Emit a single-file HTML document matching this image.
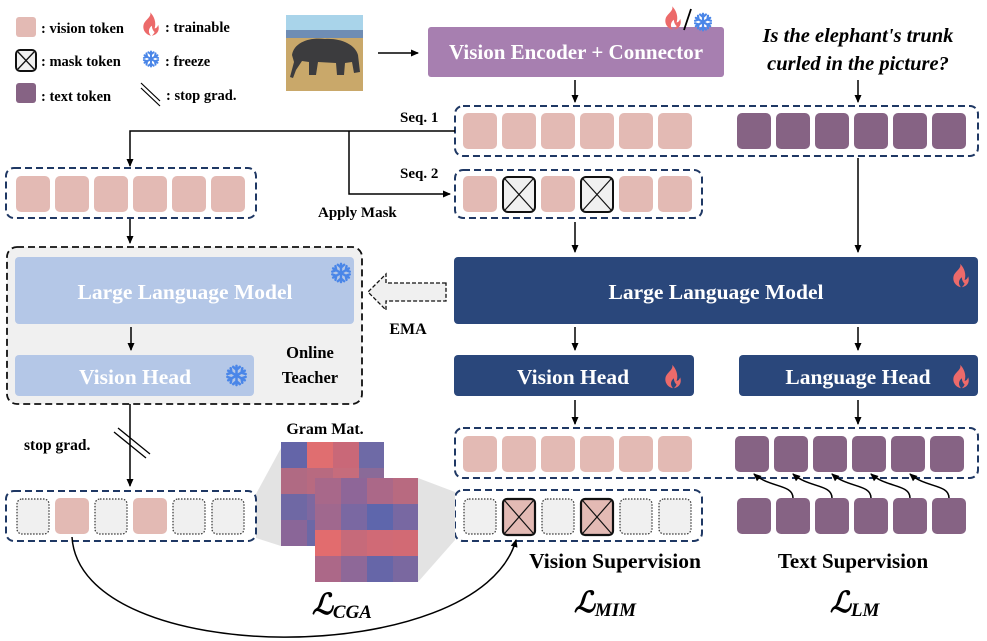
<!DOCTYPE html>
<html><head><meta charset="utf-8"><style>
html,body{margin:0;padding:0;background:#fff;}
svg{display:block;font-family:"Liberation Serif",serif;}
.b{font-weight:bold;}
</style></head><body>
<svg width="987" height="641" viewBox="0 0 987 641" xmlns="http://www.w3.org/2000/svg">
<defs>
<marker id="ah" markerWidth="8" markerHeight="8" refX="7" refY="4" orient="auto" markerUnits="userSpaceOnUse">
<path d="M0,0.5 L8,4 L0,7.5 Z" fill="#000"/></marker>
<symbol id="flame" viewBox="0 0 20 26">
<path d="M9,0 C11,5 4,8 2,13 C0,19 4,25 10,26 C6,22 8,17 11,15 C11,19 13,21 14,22 C13,24 12,25 11,26 C17,25 20,20 18,14 C17,17 15,18 14,18 C16,12 14,5 9,0 Z" fill="#ec6a6a"/>
</symbol>
<symbol id="snow" viewBox="-12 -12 24 24">
<g stroke="#4a86e8" stroke-width="2.6" stroke-linecap="round" fill="none">
<g id="arm"><line x1="0" y1="0" x2="0" y2="-10"/><path d="M-3.5,-9 L0,-6 L3.5,-9"/></g>
<use href="#arm" transform="rotate(60)"/><use href="#arm" transform="rotate(120)"/><use href="#arm" transform="rotate(180)"/><use href="#arm" transform="rotate(240)"/><use href="#arm" transform="rotate(300)"/>
</g></symbol>
<g id="vt"><rect width="34" height="36" rx="5" fill="#e3bab4"/></g>
<g id="tt"><rect width="34" height="36" rx="5" fill="#866384"/></g>
<g id="gt"><rect x="1" y="1" width="32" height="35" rx="5" fill="#f0f0f0" stroke="#333" stroke-width="1.2" stroke-dasharray="1.5,1.5"/></g>
<g id="mt"><rect x="1" y="1" width="32" height="35" rx="5" fill="#f0f0f0" stroke="#111" stroke-width="2"/><line x1="3" y1="3" x2="31" y2="34" stroke="#111" stroke-width="1.2"/><line x1="31" y1="3" x2="3" y2="34" stroke="#111" stroke-width="1.2"/></g>
<g id="mp"><rect x="1" y="1" width="32" height="36" rx="4" fill="#e3bab4" stroke="#111" stroke-width="2.2"/><line x1="3" y1="3" x2="31" y2="35" stroke="#111" stroke-width="1.2"/><line x1="31" y1="3" x2="3" y2="35" stroke="#111" stroke-width="1.2"/></g>
</defs>

<!-- Legend -->
<rect x="16" y="17" width="20" height="20" rx="3" fill="#e3bab4"/>
<text x="41" y="33" class="b" font-size="14.5">: vision token</text>
<rect x="16" y="50" width="20" height="21" rx="4" fill="#f0f0f0" stroke="#111" stroke-width="2"/>
<line x1="18" y1="52" x2="34" y2="69" stroke="#111" stroke-width="1.3"/><line x1="34" y1="52" x2="18" y2="69" stroke="#111" stroke-width="1.3"/>
<text x="41" y="66" class="b" font-size="14.5">: mask token</text>
<rect x="16" y="83" width="20" height="20" rx="3" fill="#866384"/>
<text x="41" y="101" class="b" font-size="14.5">: text token</text>
<use href="#flame" x="142" y="12" width="18" height="24"/>
<text x="165" y="32" class="b" font-size="14.5">: trainable</text>
<use href="#snow" x="142" y="50" width="18" height="18"/>
<text x="165" y="66" class="b" font-size="14.5">: freeze</text>
<line x1="141" y1="83" x2="160" y2="101" stroke="#000" stroke-width="1.2"/><line x1="141" y1="88" x2="160" y2="106" stroke="#000" stroke-width="1.2"/>
<text x="166" y="100" class="b" font-size="14.5">: stop grad.</text>

<!-- Elephant image -->
<rect x="286" y="15" width="77" height="76" fill="#c9a86a"/>
<rect x="286" y="15" width="77" height="22" fill="#a9d4ea"/>
<rect x="286" y="30" width="77" height="8" fill="#6f8db4"/>
<path d="M292,55 C294,42 310,37 325,39 C340,38 355,44 358,55 L360,72 L354,73 L352,62 L345,63 L344,75 L337,75 L336,63 L318,62 L316,75 L309,75 L309,62 L302,61 L296,70 L293,78 L290,77 L294,62 Z" fill="#3c3c3e"/>

<line x1="378" y1="53" x2="418" y2="53" stroke="#000" stroke-width="1.5" marker-end="url(#ah)"/>

<!-- Vision encoder -->
<rect x="428" y="27" width="296" height="50" rx="3" fill="#a77fb0"/>
<text x="576" y="59" text-anchor="middle" class="b" font-size="21" fill="#fff">Vision Encoder + Connector</text>
<use href="#flame" x="664" y="6" width="18" height="24"/>
<line x1="691" y1="9" x2="684" y2="30" stroke="#000" stroke-width="1.8"/>
<use href="#snow" x="693" y="12" width="20" height="20"/>

<text x="858" y="42" text-anchor="middle" font-style="italic" class="b" font-size="20.5">Is the elephant's trunk</text>
<text x="858" y="70" text-anchor="middle" font-style="italic" class="b" font-size="20.5">curled in the picture?</text>

<line x1="575" y1="80" x2="575" y2="102" stroke="#000" stroke-width="1.5" marker-end="url(#ah)"/>
<line x1="858" y1="80" x2="858" y2="102" stroke="#000" stroke-width="1.5" marker-end="url(#ah)"/>

<!-- Seq 1 -->
<text x="400" y="122" class="b" font-size="15">Seq. 1</text>
<rect x="455" y="106" width="523" height="50" rx="8" fill="none" stroke="#1f3864" stroke-width="2" stroke-dasharray="7,4"/>
<use href="#vt" x="463" y="113"/><use href="#vt" x="502" y="113"/><use href="#vt" x="541" y="113"/><use href="#vt" x="580" y="113"/><use href="#vt" x="619" y="113"/><use href="#vt" x="658" y="113"/>
<use href="#tt" x="737" y="113"/><use href="#tt" x="776" y="113"/><use href="#tt" x="815" y="113"/><use href="#tt" x="854" y="113"/><use href="#tt" x="893" y="113"/><use href="#tt" x="932" y="113"/>

<polyline points="455,131 130,131 130,166" fill="none" stroke="#000" stroke-width="1.5" marker-end="url(#ah)"/>
<polyline points="349,131 349,194 450,194" fill="none" stroke="#000" stroke-width="1.5" marker-end="url(#ah)"/>
<text x="400" y="178" class="b" font-size="15">Seq. 2</text>
<text x="318" y="217" class="b" font-size="15">Apply Mask</text>

<!-- Seq 2 -->
<rect x="455" y="170" width="247" height="48" rx="8" fill="none" stroke="#1f3864" stroke-width="2" stroke-dasharray="7,4"/>
<use href="#vt" x="463" y="176"/><use href="#mt" x="502" y="176"/><use href="#vt" x="541" y="176"/><use href="#mt" x="580" y="176"/><use href="#vt" x="619" y="176"/><use href="#vt" x="658" y="176"/>

<!-- left top seq -->
<rect x="6" y="168" width="250" height="50" rx="8" fill="none" stroke="#1f3864" stroke-width="2" stroke-dasharray="7,4"/>
<use href="#vt" x="16" y="176"/><use href="#vt" x="55" y="176"/><use href="#vt" x="94" y="176"/><use href="#vt" x="133" y="176"/><use href="#vt" x="172" y="176"/><use href="#vt" x="211" y="176"/>
<line x1="130" y1="219" x2="130" y2="243" stroke="#000" stroke-width="1.5" marker-end="url(#ah)"/>

<!-- Teacher -->
<rect x="7" y="247" width="355" height="157" rx="10" fill="#f0f0f0" stroke="#111" stroke-width="1.8" stroke-dasharray="7,4"/>
<rect x="15" y="257" width="339" height="67" rx="4" fill="#b4c7e7"/>
<text x="185" y="299" text-anchor="middle" class="b" font-size="21.5" fill="#fff">Large Language Model</text>
<use href="#snow" x="330" y="262" width="22" height="22"/>
<line x1="131" y1="327" x2="131" y2="350" stroke="#000" stroke-width="1.5" marker-end="url(#ah)"/>
<rect x="15" y="355" width="239" height="41" rx="4" fill="#b4c7e7"/>
<text x="135" y="384" text-anchor="middle" class="b" font-size="21.5" fill="#fff">Vision Head</text>
<use href="#snow" x="225" y="364" width="23" height="23"/>
<text x="310" y="358" text-anchor="middle" class="b" font-size="16.5">Online</text>
<text x="310" y="383" text-anchor="middle" class="b" font-size="16.5">Teacher</text>

<!-- EMA -->
<path d="M446,283 L386,283 L386,274 L368,292 L386,310 L386,301 L446,301 Z" fill="#f0f0f0" stroke="#111" stroke-width="1.3" stroke-dasharray="4,2"/>
<text x="408" y="334" text-anchor="middle" class="b" font-size="16">EMA</text>

<!-- Right LLM -->
<line x1="575" y1="222" x2="575" y2="252" stroke="#000" stroke-width="1.5" marker-end="url(#ah)"/>
<line x1="858" y1="158" x2="858" y2="252" stroke="#000" stroke-width="1.5" marker-end="url(#ah)"/>
<rect x="454" y="257" width="524" height="67" rx="4" fill="#2a477b"/>
<text x="716" y="299" text-anchor="middle" class="b" font-size="21.5" fill="#fff">Large Language Model</text>
<use href="#flame" x="952" y="263" width="18" height="25"/>
<line x1="575" y1="327" x2="575" y2="350" stroke="#000" stroke-width="1.5" marker-end="url(#ah)"/>
<line x1="858" y1="327" x2="858" y2="350" stroke="#000" stroke-width="1.5" marker-end="url(#ah)"/>
<rect x="454" y="355" width="240" height="41" rx="4" fill="#2a477b"/>
<text x="573" y="384" text-anchor="middle" class="b" font-size="21.5" fill="#fff">Vision Head</text>
<use href="#flame" x="664" y="364" width="18" height="25"/>
<rect x="739" y="355" width="239" height="41" rx="4" fill="#2a477b"/>
<text x="858" y="384" text-anchor="middle" class="b" font-size="21.5" fill="#fff">Language Head</text>
<use href="#flame" x="952" y="364" width="18" height="25"/>
<line x1="575" y1="400" x2="575" y2="424" stroke="#000" stroke-width="1.5" marker-end="url(#ah)"/>
<line x1="858" y1="400" x2="858" y2="424" stroke="#000" stroke-width="1.5" marker-end="url(#ah)"/>

<!-- outputs -->
<rect x="455" y="428" width="523" height="50" rx="8" fill="none" stroke="#1f3864" stroke-width="2" stroke-dasharray="7,4"/>
<use href="#vt" x="463" y="436"/><use href="#vt" x="502" y="436"/><use href="#vt" x="541" y="436"/><use href="#vt" x="580" y="436"/><use href="#vt" x="619" y="436"/><use href="#vt" x="658" y="436"/>
<use href="#tt" x="735" y="436"/><use href="#tt" x="774" y="436"/><use href="#tt" x="813" y="436"/><use href="#tt" x="852" y="436"/><use href="#tt" x="891" y="436"/><use href="#tt" x="930" y="436"/>

<!-- text supervision -->
<use href="#tt" x="737" y="498"/><use href="#tt" x="776" y="498"/><use href="#tt" x="815" y="498"/><use href="#tt" x="854" y="498"/><use href="#tt" x="893" y="498"/><use href="#tt" x="932" y="498"/>
<g fill="none" stroke="#000" stroke-width="1.5" marker-end="url(#ah)">
<path d="M793,498 C793,484 770,488 754,474"/>
<path d="M832,498 C832,484 809,488 793,474"/>
<path d="M871,498 C871,484 848,488 832,474"/>
<path d="M910,498 C910,484 887,488 871,474"/>
<path d="M949,498 C949,484 926,488 910,474"/>
</g>

<!-- Vision supervision -->
<rect x="455" y="490" width="247" height="51" rx="8" fill="none" stroke="#1f3864" stroke-width="2" stroke-dasharray="7,4"/>
<use href="#gt" x="463" y="498"/><use href="#mp" x="502" y="498"/><use href="#gt" x="541" y="498"/><use href="#mp" x="580" y="498"/><use href="#gt" x="619" y="498"/><use href="#gt" x="658" y="498"/>

<!-- stop grad left -->
<line x1="130" y1="404" x2="130" y2="486" stroke="#000" stroke-width="1.5" marker-end="url(#ah)"/>
<line x1="114" y1="432" x2="146" y2="458" stroke="#000" stroke-width="1.3"/>
<line x1="118" y1="428" x2="150" y2="454" stroke="#000" stroke-width="1.3"/>
<text x="24" y="450" class="b" font-size="15.5">stop grad.</text>

<polygon points="256,494 281,448 281,546 256,538" fill="#e3e3e3"/>
<polygon points="418,478 455,492 455,540 418,582" fill="#e3e3e3"/>

<!-- bottom left seq -->
<rect x="6" y="491" width="250" height="50" rx="8" fill="#fff" stroke="#1f3864" stroke-width="2" stroke-dasharray="7,4"/>
<use href="#gt" x="16" y="498"/><use href="#vt" x="55" y="498"/><use href="#gt" x="94" y="498"/><use href="#vt" x="133" y="498"/><use href="#gt" x="172" y="498"/><use href="#gt" x="211" y="498"/>

<!-- Gram matrices -->
<text x="325" y="434" text-anchor="middle" class="b" font-size="16">Gram Mat.</text>
<g>
<rect x="281" y="442" width="26" height="26" fill="#6465a8"/><rect x="307" y="442" width="26" height="26" fill="#e06e70"/><rect x="333" y="442" width="26" height="26" fill="#c96878"/><rect x="359" y="442" width="25" height="26" fill="#6e6aa6"/>
<rect x="281" y="468" width="26" height="26" fill="#b06a83"/><rect x="307" y="468" width="26" height="26" fill="#b86a80"/><rect x="333" y="468" width="26" height="26" fill="#c66c7c"/><rect x="359" y="468" width="25" height="26" fill="#8a6a98"/>
<rect x="281" y="494" width="26" height="26" fill="#6f68a4"/><rect x="307" y="494" width="26" height="26" fill="#7e68a0"/><rect x="333" y="494" width="26" height="26" fill="#8a6a98"/><rect x="359" y="494" width="25" height="26" fill="#8a6a98"/>
<rect x="281" y="520" width="26" height="26" fill="#8a6698"/><rect x="307" y="520" width="26" height="26" fill="#6c68a6"/><rect x="333" y="520" width="26" height="26" fill="#8a6a98"/><rect x="359" y="520" width="25" height="26" fill="#8a6a98"/>
</g>
<g>
<rect x="315" y="478" width="26" height="26" fill="#a8688a"/><rect x="341" y="478" width="26" height="26" fill="#8e6698"/><rect x="367" y="478" width="26" height="26" fill="#ab6888"/><rect x="393" y="478" width="25" height="26" fill="#b86a80"/>
<rect x="315" y="504" width="26" height="26" fill="#a0688e"/><rect x="341" y="504" width="26" height="26" fill="#7a68a2"/><rect x="367" y="504" width="26" height="26" fill="#5e66ac"/><rect x="393" y="504" width="25" height="26" fill="#7868a2"/>
<rect x="315" y="530" width="26" height="26" fill="#e26c6e"/><rect x="341" y="530" width="26" height="26" fill="#c66a7a"/><rect x="367" y="530" width="26" height="26" fill="#d06a76"/><rect x="393" y="530" width="25" height="26" fill="#d26a74"/>
<rect x="315" y="556" width="26" height="26" fill="#ac6888"/><rect x="341" y="556" width="26" height="26" fill="#8e6898"/><rect x="367" y="556" width="26" height="26" fill="#6666a8"/><rect x="393" y="556" width="25" height="26" fill="#7a68a0"/>
</g>

<path d="M72,537 C80,670 480,670 516,540" fill="none" stroke="#000" stroke-width="1.5" marker-end="url(#ah)"/>

<!-- labels -->
<text x="615" y="568" text-anchor="middle" class="b" font-size="21.5">Vision Supervision</text>
<text x="853" y="568" text-anchor="middle" class="b" font-size="21">Text Supervision</text>
<text x="312" y="614" class="b" font-style="italic" font-size="29">ℒ<tspan font-size="19" dy="4">CGA</tspan></text>
<text x="574" y="612" class="b" font-style="italic" font-size="29">ℒ<tspan font-size="19" dy="4">MIM</tspan></text>
<text x="830" y="612" class="b" font-style="italic" font-size="29">ℒ<tspan font-size="19" dy="4">LM</tspan></text>
</svg>
</body></html>
